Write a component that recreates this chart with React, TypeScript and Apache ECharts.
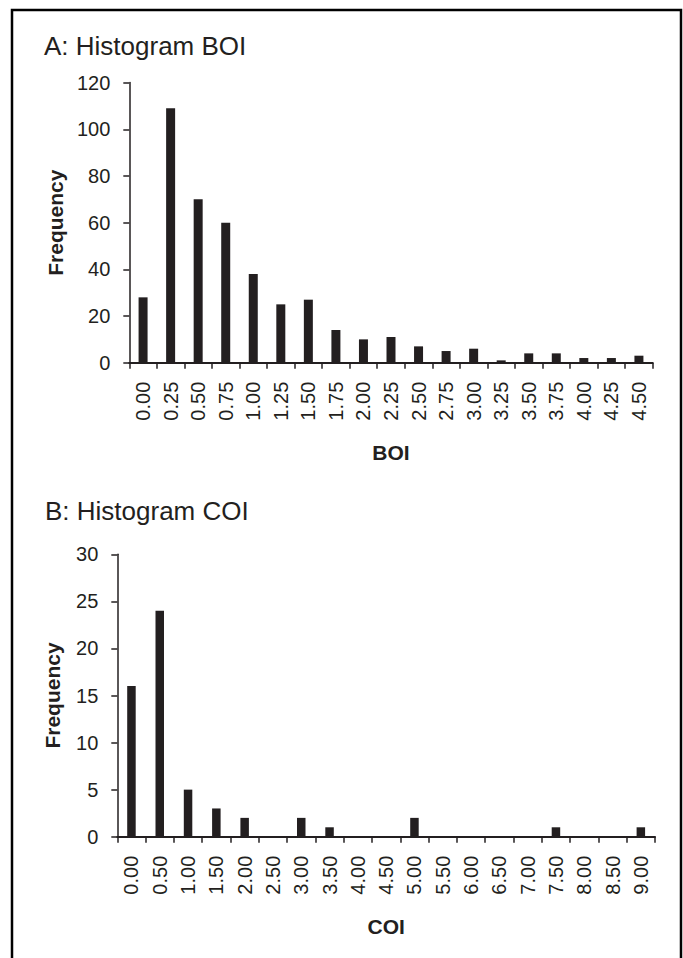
import React, { useEffect, useRef } from "react";
import * as echarts from "echarts";

const boiCategories = ["0.00","0.25","0.50","0.75","1.00","1.25","1.50","1.75","2.00","2.25","2.50","2.75","3.00","3.25","3.50","3.75","4.00","4.25","4.50"];
const boiFrequency = [28,109,70,60,38,25,27,14,10,11,7,5,6,1,4,4,2,2,3];
const coiCategories = ["0.00","0.50","1.00","1.50","2.00","2.50","3.00","3.50","4.00","4.50","5.00","5.50","6.00","6.50","7.00","7.50","8.00","8.50","9.00"];
const coiFrequency = [16,24,5,3,2,0,2,1,0,0,2,0,0,0,0,1,0,0,1];
const titles = ["A: Histogram BOI", "B: Histogram COI"];
const axisNames = ["BOI", "COI", "Frequency"];

const FONT = "'Liberation Sans', Arial, sans-serif";
const INK = "#231f20";

export default function App() {
  const ref = useRef<HTMLDivElement>(null);
  useEffect(() => {
    if (!ref.current) return;
    const chart = echarts.init(ref.current, null, { renderer: "svg" });
    const xAxisBase = (data: string[], name: string) => ({
      type: "category",
      data,
      name,
      nameLocation: "middle",
      nameGap: 79,
      nameTextStyle: { fontFamily: FONT, fontSize: 21, fontWeight: "bold", color: INK },
      boundaryGap: true,
      axisLine: { lineStyle: { color: INK, width: 2 } },
      axisTick: { show: true, interval: 0, length: 6, lineStyle: { color: INK, width: 1.5 } },
      axisLabel: { interval: 0, rotate: 90, margin: 19, fontFamily: FONT, fontSize: 20, color: INK },
      splitLine: { show: false },
    });
    const yAxisBase = (max: number, interval: number, nameGap: number) => ({
      type: "value",
      min: 0,
      max,
      interval,
      name: axisNames[2],
      nameLocation: "middle",
      nameGap,
      nameTextStyle: { fontFamily: FONT, fontSize: 21, fontWeight: "bold", color: INK },
      axisLine: { show: true, lineStyle: { color: INK, width: 1.5 } },
      axisTick: { show: true, length: 6, lineStyle: { color: INK, width: 1.5 } },
      axisLabel: { margin: 19, fontFamily: FONT, fontSize: 20, color: INK },
      splitLine: { show: false },
    });
    chart.setOption({
      animation: false,
      backgroundColor: "#ffffff",
      grid: [
        { left: 129.3, top: 82.6, width: 523.4, height: 280.1 },
        { left: 117.3, top: 554.3, width: 537.7, height: 282.4 },
      ],
      xAxis: [
        { ...xAxisBase(boiCategories, axisNames[0]), gridIndex: 0 },
        { ...xAxisBase(coiCategories, axisNames[1]), gridIndex: 1 },
      ],
      yAxis: [
        { ...yAxisBase(120, 20, 61), gridIndex: 0 },
        { ...yAxisBase(30, 5, 54), gridIndex: 1 },
      ],
      series: [
        { type: "bar", xAxisIndex: 0, yAxisIndex: 0, data: boiFrequency, barWidth: 9, itemStyle: { color: INK } },
        { type: "bar", xAxisIndex: 1, yAxisIndex: 1, data: coiFrequency, barWidth: 8.5, itemStyle: { color: INK } },
      ],
      graphic: [
        {
          type: "rect",
          shape: { x: 12, y: 10, width: 669, height: 980 },
          style: { fill: "none", stroke: "#000", lineWidth: 2.5 },
          silent: true,
        },
        {
          type: "text",
          x: 44,
          y: 46,
          style: { text: titles[0], fontFamily: FONT, fontSize: 26, fill: INK, textVerticalAlign: "middle", textAlign: "left" },
        },
        {
          type: "text",
          x: 45,
          y: 511,
          style: { text: titles[1], fontFamily: FONT, fontSize: 26, fill: INK, textVerticalAlign: "middle", textAlign: "left" },
        },
      ],
    });
    return () => chart.dispose();
  }, []);
  return (
    <div
      ref={ref}
      style={{ position: "absolute", left: 0, top: 0, width: 683, height: 958 }}
    />
  );
}
